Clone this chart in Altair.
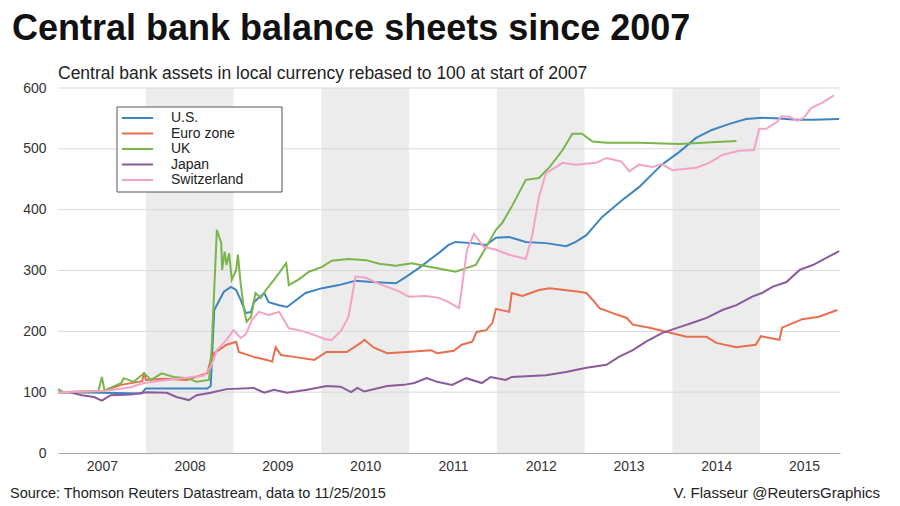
import altair as alt
import pandas as pd

FONT = "Liberation Sans, Arial, Helvetica, sans-serif"

SERIES = ["U.S.", "Euro zone", "UK", "Japan", "Switzerland"]
COLORS = ["#3d85c1", "#e96e4e", "#79b54a", "#8a5a9c", "#f4a2c6"]

# decimal year / index value (start of 2007 = 100)
US_T = [2007.0, 2007.5, 2007.95, 2008.0, 2008.7, 2008.74, 2008.78, 2008.89, 2008.97, 2009.03, 2009.08, 2009.14, 2009.2,
        2009.23, 2009.35, 2009.4, 2009.52, 2009.61, 2009.82, 2010.01, 2010.2, 2010.39, 2010.58, 2010.85, 2010.97, 2011.11,
        2011.34, 2011.45, 2011.53, 2011.72, 2011.88, 2011.99, 2012.14, 2012.33, 2012.56, 2012.79, 2012.9, 2013.02, 2013.2,
        2013.43, 2013.62, 2013.88, 2014.08, 2014.27, 2014.45, 2014.65, 2014.84, 2015.02, 2015.22, 2015.41, 2015.6, 2015.9]
US_V = [100, 99, 98, 106, 106, 110, 235, 265, 273, 268, 252, 230, 232, 248, 263, 248, 243, 240, 263, 271, 276, 283, 281,
        279, 290, 304, 329, 342, 347, 345, 342, 354, 355, 347, 345, 340, 347, 358, 388, 416, 437, 474, 495, 518, 531, 541,
        549, 551, 550, 548, 548, 549]

EU_T = [2007.0, 2007.52, 2007.72, 2007.96, 2007.98, 2008.0, 2008.21, 2008.47, 2008.7, 2008.74, 2008.78, 2008.92, 2009.03,
        2009.06, 2009.23, 2009.38, 2009.44, 2009.48, 2009.54, 2009.69, 2009.92, 2010.06, 2010.29, 2010.45, 2010.49, 2010.6,
        2010.75, 2010.98, 2011.25, 2011.32, 2011.51, 2011.6, 2011.72, 2011.77, 2011.88, 2011.95, 2011.99, 2012.14, 2012.17,
        2012.29, 2012.48, 2012.6, 2012.94, 2013.02, 2013.09, 2013.17, 2013.32, 2013.48, 2013.55, 2013.74, 2014.0, 2014.16,
        2014.39, 2014.5, 2014.73, 2014.95, 2015.01, 2015.22, 2015.25, 2015.48, 2015.67, 2015.88]
EU_V = [100, 102, 112, 118, 133, 120, 122, 120, 131, 153, 164, 178, 183, 166, 158, 153, 150, 174, 161, 158, 153, 166, 166,
        181, 186, 173, 164, 166, 169, 164, 168, 178, 183, 199, 202, 214, 237, 232, 263, 258, 268, 271, 265, 263, 252, 238,
        230, 222, 211, 206, 197, 191, 191, 181, 174, 178, 192, 186, 206, 220, 224, 235]

UK_T = [2007.0, 2007.065, 2007.46, 2007.5, 2007.53, 2007.72, 2007.75, 2007.86, 2007.98, 2008.06, 2008.18, 2008.32, 2008.47,
        2008.58, 2008.72, 2008.75, 2008.81, 2008.86, 2008.87, 2008.9, 2008.92, 2008.95, 2008.98, 2009.03, 2009.05, 2009.08,
        2009.12, 2009.15, 2009.2, 2009.25, 2009.31, 2009.37, 2009.44, 2009.52, 2009.6, 2009.63, 2009.74, 2009.86, 2010.01,
        2010.12, 2010.31, 2010.51, 2010.66, 2010.85, 2011.03, 2011.23, 2011.53, 2011.76, 2011.88, 2011.99, 2012.06, 2012.17,
        2012.33, 2012.48, 2012.6, 2012.75, 2012.86, 2012.97, 2013.09, 2013.25, 2013.62, 2014.08, 2014.45, 2014.73]
UK_V = [105, 100, 102, 125, 103, 115, 123, 117, 131, 120, 131, 125, 123, 117, 120, 170, 367, 345, 301, 331, 309, 328, 285,
        301, 326, 280, 235, 216, 224, 263, 255, 268, 281, 296, 312, 276, 285, 298, 306, 316, 319, 317, 311, 308, 312, 306,
        298, 309, 339, 367, 378, 405, 449, 452, 470, 498, 525, 525, 512, 510, 510, 508, 511, 513]

JP_T = [2007.0, 2007.14, 2007.27, 2007.41, 2007.5, 2007.6, 2007.83, 2008.01, 2008.24, 2008.35, 2008.49, 2008.58, 2008.74,
        2008.92, 2009.23, 2009.35, 2009.46, 2009.61, 2009.84, 2010.06, 2010.22, 2010.34, 2010.41, 2010.49, 2010.75, 2010.94,
        2011.06, 2011.2, 2011.32, 2011.49, 2011.65, 2011.83, 2011.93, 2012.1, 2012.17, 2012.56, 2012.79, 2013.02, 2013.25,
        2013.39, 2013.55, 2013.7, 2013.88, 2014.08, 2014.23, 2014.39, 2014.57, 2014.73, 2014.91, 2015.02, 2015.14, 2015.3,
        2015.45, 2015.6, 2015.76, 2015.9]
JP_V = [100, 100, 95, 92, 86, 95, 96, 100, 99, 92, 87, 95, 99, 105, 107, 99, 104, 99, 104, 110, 109, 100, 107, 101, 110,
        112, 115, 123, 117, 112, 123, 115, 125, 120, 125, 128, 133, 140, 145, 158, 169, 183, 197, 207, 214, 222, 235, 243,
        257, 263, 273, 281, 301, 309, 321, 332]

CH_T = [2007.0, 2007.52, 2007.83, 2007.98, 2008.29, 2008.66, 2008.74, 2008.81, 2008.92, 2009.0, 2009.08, 2009.14, 2009.21,
        2009.29, 2009.4, 2009.52, 2009.63, 2009.74, 2009.86, 2010.05, 2010.12, 2010.23, 2010.31, 2010.39, 2010.51, 2010.69,
        2010.85, 2011.0, 2011.19, 2011.34, 2011.45, 2011.57, 2011.66, 2011.74, 2011.85, 2011.99, 2012.14, 2012.33, 2012.4,
        2012.48, 2012.56, 2012.75, 2012.9, 2013.13, 2013.25, 2013.42, 2013.51, 2013.62, 2013.77, 2013.88, 2014.0, 2014.27,
        2014.42, 2014.57, 2014.76, 2014.93, 2014.99, 2015.07, 2015.19, 2015.24, 2015.33, 2015.42, 2015.5, 2015.58, 2015.71,
        2015.84]
CH_V = [100, 102, 108, 115, 121, 127, 141, 169, 186, 202, 189, 195, 219, 232, 227, 232, 205, 202, 197, 187, 186, 202, 224,
        290, 288, 276, 268, 257, 258, 255, 248, 238, 334, 360, 339, 334, 326, 319, 355, 421, 460, 477, 474, 477, 485, 479,
        463, 474, 470, 475, 465, 469, 477, 490, 497, 498, 533, 533, 544, 553, 553, 546, 551, 567, 576, 588]

BAND_START = [2008, 2010, 2012, 2014]
Y_TICKS = [0, 100, 200, 300, 400, 500, 600]
X_LABEL_POS = [2007.5, 2008.5, 2009.5, 2010.5, 2011.5, 2012.5, 2013.5, 2014.5, 2015.5]

rows = []
for name, ts, vs in zip(SERIES, [US_T, EU_T, UK_T, JP_T, CH_T], [US_V, EU_V, UK_V, JP_V, CH_V]):
    assert len(ts) == len(vs), name
    for t, v in zip(ts, vs):
        rows.append({"series": name, "t": t, "value": v})
df = pd.DataFrame(rows)

W, H = 782, 365
xscale = alt.Scale(domain=[2007.0, 2015.91], nice=False, zero=False)
yscale = alt.Scale(domain=[0, 600], nice=False, zero=True)

xaxis = alt.Axis(values=X_LABEL_POS, labelExpr="floor(datum.value)", title=None, grid=False, ticks=False,
                 domain=True, domainColor="#a8a8a8", domainWidth=1, labelFontSize=14, labelFont=FONT,
                 labelColor="#333333", labelPadding=6)
yaxis = alt.Axis(values=Y_TICKS, title=None, grid=False, ticks=False, domain=False, labelFontSize=14,
                 labelFont=FONT, labelColor="#333333", labelPadding=12)

bands = alt.Chart(pd.DataFrame({"start": BAND_START, "end": [s + 1 for s in BAND_START]})).mark_rect(
    color="#ececec").encode(
    x=alt.X("start:Q", scale=xscale, axis=xaxis), x2="end:Q", y=alt.value(0), y2=alt.value(H))

grid = alt.Chart(pd.DataFrame({"v": Y_TICKS[1:]})).mark_rule(color="#d9d9d9", strokeWidth=1).encode(
    y=alt.Y("v:Q", scale=yscale, axis=yaxis))

legend_box = alt.Chart(pd.DataFrame({"a": [0]})).mark_rect(fill="white", stroke="#555555", strokeWidth=1).encode(
    x=alt.value(59), x2=alt.value(224), y=alt.value(19), y2=alt.value(104))

lines = alt.Chart(df).mark_line(strokeWidth=2).encode(
    x=alt.X("t:Q", scale=xscale, axis=xaxis),
    y=alt.Y("value:Q", scale=yscale, axis=yaxis),
    color=alt.Color("series:N", scale=alt.Scale(domain=SERIES, range=COLORS), sort=SERIES,
                    legend=alt.Legend(title=None, orient="none", legendX=63.5, legendY=23,
                                      symbolType="M-2.6,0H2.6", symbolSize=144, symbolStrokeWidth=2,
                                      labelFontSize=14, labelFont=FONT, labelColor="#222222",
                                      labelOffset=26.5, symbolOffset=9, rowPadding=1.5, padding=0)),
)

def txt(s, x, y, size, weight="normal", align="left", color="#222222"):
    return alt.Chart(pd.DataFrame({"a": [0]})).mark_text(
        text=s, align=align, baseline="alphabetic", font=FONT, fontSize=size, fontWeight=weight, color=color
    ).encode(x=alt.value(x), y=alt.value(y))

title = txt("Central bank balance sheets since 2007", -46, -48, 36, weight="bold", color="#111111")
subtitle = txt("Central bank assets in local currency rebased to 100 at start of 2007", 0, -9, 17.5)
source = txt("Source: Thomson Reuters Datastream, data to 11/25/2015", -48, 410, 14.5)
credit = txt("V. Flasseur @ReutersGraphics", 822, 410, 15, align="right")

chart = alt.layer(bands, grid, legend_box, lines, title, subtitle, source, credit).properties(
    width=W, height=H,
    autosize=alt.AutoSizeParams(type="none"),
    padding={"left": 50, "top": 80, "right": 52, "bottom": 50},
    background="white",
).configure_view(stroke=None)

chart.save("out.html", embed_options={"renderer": "svg", "actions": False})
